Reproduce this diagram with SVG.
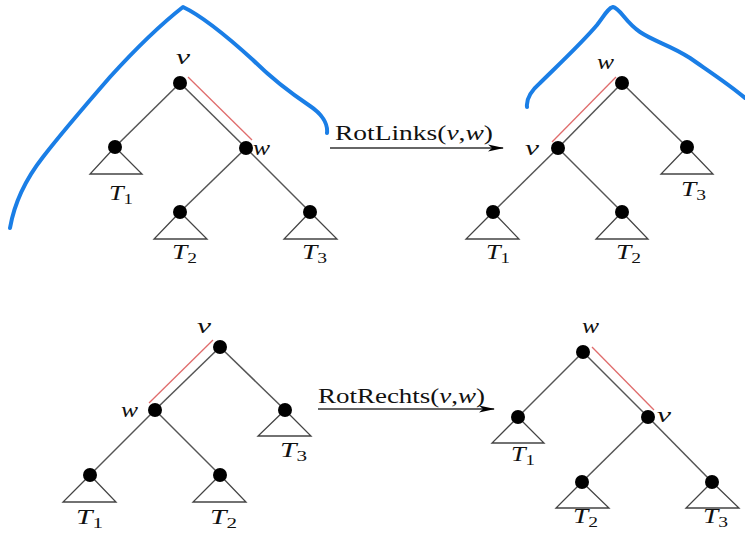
<svg xmlns="http://www.w3.org/2000/svg" width="745" height="547" viewBox="0 0 745 547">
<defs>
<style>
.e{stroke:#555;stroke-width:1.5;fill:none}
.r{stroke:#e06c6c;stroke-width:1.3;fill:none}
.tri{stroke:#444;stroke-width:1.3;fill:#fff}
.n{fill:#000}
.lbl{font-family:"Liberation Serif",serif;font-style:italic;font-size:22px;fill:#111}
.tl{font-family:"Liberation Serif",serif;font-size:21px;fill:#111}
.tl .t{font-style:italic}
.tl .s{font-size:15px}
.op{font-family:"Liberation Serif",serif;font-size:22px;fill:#111}
.op .i{font-style:italic}
.blue{stroke:#1a7ee6;stroke-width:4;fill:none;stroke-linecap:round;stroke-linejoin:round}
.arr{stroke:#333;stroke-width:1.5;fill:none}
</style>
<marker id="ah" viewBox="0 0 16 8" refX="15" refY="4" markerWidth="16" markerHeight="8" markerUnits="userSpaceOnUse" orient="auto">
<path d="M0,0.5 L16,4 L0,7.5 L4,4 Z" fill="#000"/>
</marker>
</defs>
<rect width="745" height="547" fill="#fff"/>

<path class="blue" d="M10,228 C14,205 25,180 43,157 C60,135 90,100 110,77 C130,55 160,25 183,7 C200,15 220,30 253,60 C275,82 295,96 310,106 C322,114 328,124 327,133"/>
<path class="blue" d="M527,107 C526,98 532,90 540,83 C555,68 580,45 597,25 C604,16 608,8 613,7 C620,8 625,22 640,32 C655,42 670,45 690,58 C710,72 730,85 745,98"/>

<g id="connectors">
<line class="e" x1="180" y1="83" x2="115" y2="147"/>
<line class="e" x1="180" y1="83" x2="246" y2="148"/>
<line class="e" x1="246" y1="148" x2="180" y2="212"/>
<line class="e" x1="246" y1="148" x2="310" y2="212"/>
<line class="r" x1="188" y1="77" x2="252" y2="140"/>
<line class="e" x1="622" y1="83" x2="558" y2="148"/>
<line class="e" x1="622" y1="83" x2="687" y2="147"/>
<line class="e" x1="558" y1="148" x2="493" y2="212"/>
<line class="e" x1="558" y1="148" x2="622" y2="212"/>
<line class="r" x1="552" y1="142" x2="616" y2="77"/>
<line class="e" x1="220" y1="347" x2="155" y2="410"/>
<line class="e" x1="220" y1="347" x2="285" y2="410"/>
<line class="e" x1="155" y1="410" x2="90" y2="475"/>
<line class="e" x1="155" y1="410" x2="220" y2="475"/>
<line class="r" x1="213" y1="340" x2="149" y2="403"/>
<line class="e" x1="583" y1="352" x2="518" y2="417"/>
<line class="e" x1="583" y1="352" x2="648" y2="417"/>
<line class="e" x1="648" y1="417" x2="582" y2="482"/>
<line class="e" x1="648" y1="417" x2="712" y2="482"/>
<line class="r" x1="592" y1="347" x2="654" y2="410"/>
<line class="arr" x1="330" y1="148" x2="503" y2="148" marker-end="url(#ah)"/>
<line class="arr" x1="318" y1="409" x2="494" y2="409" marker-end="url(#ah)"/>
</g>

<g id="op-top"><text class="op" x="335" y="140" textLength="158" lengthAdjust="spacingAndGlyphs">RotLinks(<tspan class="i">v</tspan>,<tspan class="i">w</tspan>)</text></g>
<g id="op-bottom"><text class="op" x="318" y="403" textLength="167" lengthAdjust="spacingAndGlyphs">RotRechts(<tspan class="i">v</tspan>,<tspan class="i">w</tspan>)</text></g>

<g id="tl-v"><circle class="n" cx="180" cy="83" r="7"/><text class="lbl" x="176" y="64" textLength="14" lengthAdjust="spacingAndGlyphs">v</text></g>
<g id="tl-w"><circle class="n" cx="246" cy="148" r="7"/><text class="lbl" x="253" y="155" textLength="17" lengthAdjust="spacingAndGlyphs">w</text></g>
<g id="tl-T1"><path class="tri" d="M115,147 L142,174 L90,174 Z"/><circle class="n" cx="115" cy="147" r="7"/><text class="tl" x="109" y="200" textLength="24" lengthAdjust="spacingAndGlyphs"><tspan class="t">T</tspan><tspan class="s" dy="4">1</tspan></text></g>
<g id="tl-T2"><path class="tri" d="M180,212 L207,239 L154,239 Z"/><circle class="n" cx="180" cy="212" r="7"/><text class="tl" x="172" y="259" textLength="25" lengthAdjust="spacingAndGlyphs"><tspan class="t">T</tspan><tspan class="s" dy="4">2</tspan></text></g>
<g id="tl-T3"><path class="tri" d="M310,212 L337,239 L284,239 Z"/><circle class="n" cx="310" cy="212" r="7"/><text class="tl" x="302" y="259" textLength="25" lengthAdjust="spacingAndGlyphs"><tspan class="t">T</tspan><tspan class="s" dy="4">3</tspan></text></g>

<g id="tr-w"><circle class="n" cx="622" cy="83" r="7"/><text class="lbl" x="597" y="69" textLength="17" lengthAdjust="spacingAndGlyphs">w</text></g>
<g id="tr-v"><circle class="n" cx="558" cy="148" r="7"/><text class="lbl" x="525" y="155" textLength="14" lengthAdjust="spacingAndGlyphs">v</text></g>
<g id="tr-T1"><path class="tri" d="M493,212 L519,239 L466,239 Z"/><circle class="n" cx="493" cy="212" r="7"/><text class="tl" x="486" y="259" textLength="24" lengthAdjust="spacingAndGlyphs"><tspan class="t">T</tspan><tspan class="s" dy="4">1</tspan></text></g>
<g id="tr-T2"><path class="tri" d="M622,212 L648,239 L596,239 Z"/><circle class="n" cx="622" cy="212" r="7"/><text class="tl" x="616" y="259" textLength="25" lengthAdjust="spacingAndGlyphs"><tspan class="t">T</tspan><tspan class="s" dy="4">2</tspan></text></g>
<g id="tr-T3"><path class="tri" d="M687,147 L713,174 L661,174 Z"/><circle class="n" cx="687" cy="147" r="7"/><text class="tl" x="681" y="196" textLength="25" lengthAdjust="spacingAndGlyphs"><tspan class="t">T</tspan><tspan class="s" dy="4">3</tspan></text></g>

<g id="bl-v"><circle class="n" cx="220" cy="347" r="7"/><text class="lbl" x="197" y="333" textLength="14" lengthAdjust="spacingAndGlyphs">v</text></g>
<g id="bl-w"><circle class="n" cx="155" cy="410" r="7"/><text class="lbl" x="121" y="417" textLength="17" lengthAdjust="spacingAndGlyphs">w</text></g>
<g id="bl-T3"><path class="tri" d="M285,410 L311,436 L258,436 Z"/><circle class="n" cx="285" cy="410" r="7"/><text class="tl" x="280" y="457" textLength="27" lengthAdjust="spacingAndGlyphs"><tspan class="t">T</tspan><tspan class="s" dy="4">3</tspan></text></g>
<g id="bl-T1"><path class="tri" d="M90,475 L116,502 L63,502 Z"/><circle class="n" cx="90" cy="475" r="7"/><text class="tl" x="76" y="524" textLength="27" lengthAdjust="spacingAndGlyphs"><tspan class="t">T</tspan><tspan class="s" dy="4">1</tspan></text></g>
<g id="bl-T2"><path class="tri" d="M220,475 L246,502 L193,502 Z"/><circle class="n" cx="220" cy="475" r="7"/><text class="tl" x="210" y="524" textLength="27" lengthAdjust="spacingAndGlyphs"><tspan class="t">T</tspan><tspan class="s" dy="4">2</tspan></text></g>

<g id="br-w"><circle class="n" cx="583" cy="352" r="7"/><text class="lbl" x="582" y="333" textLength="17" lengthAdjust="spacingAndGlyphs">w</text></g>
<g id="br-v"><circle class="n" cx="648" cy="417" r="7"/><text class="lbl" x="657" y="422" textLength="14" lengthAdjust="spacingAndGlyphs">v</text></g>
<g id="br-T1"><path class="tri" d="M518,417 L544,443 L492,443 Z"/><circle class="n" cx="518" cy="417" r="7"/><text class="tl" x="511" y="461" textLength="24" lengthAdjust="spacingAndGlyphs"><tspan class="t">T</tspan><tspan class="s" dy="4">1</tspan></text></g>
<g id="br-T2"><path class="tri" d="M582,482 L609,508 L556,508 Z"/><circle class="n" cx="582" cy="482" r="7"/><text class="tl" x="573" y="523" textLength="25" lengthAdjust="spacingAndGlyphs"><tspan class="t">T</tspan><tspan class="s" dy="4">2</tspan></text></g>
<g id="br-T3"><path class="tri" d="M712,482 L739,508 L686,508 Z"/><circle class="n" cx="712" cy="482" r="7"/><text class="tl" x="703" y="523" textLength="25" lengthAdjust="spacingAndGlyphs"><tspan class="t">T</tspan><tspan class="s" dy="4">3</tspan></text></g>
</svg>
